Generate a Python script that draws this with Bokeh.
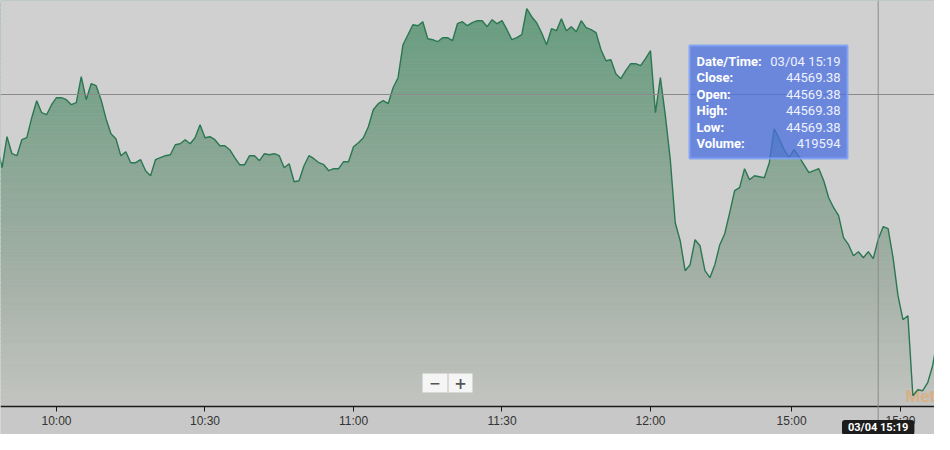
import numpy as np
from bokeh.plotting import figure
from bokeh.models import FixedTicker, Span, BoxAnnotation, Label, Range1d
from bokeh.core.properties import value
from bokeh.embed import file_html
from bokeh.resources import INLINE

# ---------------- data ----------------
minute_index = list(range(193))
close_prices = [
    44763, 44757, 44713, 44775, 44741, 44737, 44769, 44773, 44813, 44847,
    44823, 44819, 44839, 44853, 44853, 44849, 44839, 44843, 44895, 44849,
    44881, 44877, 44849, 44811, 44781, 44771, 44737, 44745, 44723, 44723,
    44729, 44707, 44697, 44729, 44733, 44737, 44739, 44759, 44761, 44769,
    44761, 44773, 44799, 44773, 44775, 44769, 44757, 44757, 44749, 44733,
    44719, 44719, 44737, 44737, 44727, 44741, 44739, 44741, 44737, 44713,
    44721, 44685, 44687, 44717, 44737, 44731, 44723, 44719, 44707, 44711,
    44711, 44725, 44725, 44755, 44763, 44773, 44795, 44829, 44841, 44847,
    44841, 44873, 44893, 44959, 44979, 44999, 44997, 45005, 44971, 44969,
    44965, 44973, 44973, 44967, 45001, 45005, 44997, 45003, 45007, 45007,
    44995, 45009, 45001, 45007, 44989, 44969, 44973, 44979, 45031, 45015,
    45003, 44983, 44959, 44991, 44987, 45011, 44987, 44995, 44985, 45007,
    44993, 44989, 44983, 44949, 44927, 44929, 44901, 44891, 44907, 44921,
    44921, 44917, 44931, 44947, 44823, 44893, 44817, 44729, 44603, 44567,
    44507, 44519, 44569, 44557, 44507, 44493, 44519, 44559, 44581, 44623,
    44667, 44673, 44711, 44689, 44697, 44695, 44693, 44723, 44791, 44771,
    44749, 44733, 44749, 44735, 44719, 44703, 44707, 44711, 44687, 44653,
    44633, 44617, 44573, 44559, 44537, 44545, 44533, 44545, 44531, 44569.38,
    44595, 44591, 44533, 44457, 44409, 44417, 44257, 44269, 44267, 44283,
    44317, 44373, 44397,
]
tick_positions = [13, 43, 73, 103, 133, 161.5, 183.5]
tick_labels = ["10:00", "10:30", "11:00", "11:30", "12:00", "15:00", "15:30"]

tooltip_keys = ["Date/Time:", "Close:", "Open:", "High:", "Low:", "Volume:"]
tooltip_values = ["03/04 15:19", "44569.38", "44569.38", "44569.38", "44569.38", "419594"]
cursor_index = 179
cursor_price = 44859.38
cursor_label = "03/04 15:19"
watermark = "Meti"

# ---------------- layout ----------------
W, H = 934, 434
FRAME_H = 434
AXIS_FY = 406
X0, X1 = 1.687, 190.374
Y0, Y1 = 44179.38, 45047.38


def dx(fx):
    return X0 + fx * (X1 - X0) / W


def dy(fy):
    return Y1 - fy * (Y1 - Y0) / FRAME_H


AXIS_Y = dy(AXIS_FY)

p = figure(width=W, height=H, x_range=Range1d(X0, X1), y_range=Range1d(Y0, Y1),
           output_backend="svg", toolbar_location=None, y_axis_location=None,
           min_border_left=0, min_border_right=0, min_border_top=0, min_border_bottom=0)
p.background_fill_color = "#d0d0d0"
p.border_fill_color = "#c8c8c8"
p.outline_line_color = None
p.xgrid.visible = False
p.ygrid.visible = False

# gradient fill under the curve: horizontal colour bands, then cover above curve
n_bands = 90
edges = np.linspace(AXIS_Y, Y1, n_bands + 1)
centers = (edges[:-1] + edges[1:]) / 2
ref_px = (45063.38 - centers) / 2.0
stop_px = [16, 150, 280, 414]
stop_r = [104, 134, 163, 196]
stop_g = [157, 166, 176, 197]
stop_b = [128, 146, 166, 194]
cols = []
for yp in ref_px:
    r = int(np.interp(yp, stop_px, stop_r))
    g = int(np.interp(yp, stop_px, stop_g))
    b = int(np.interp(yp, stop_px, stop_b))
    cols.append("#%02x%02x%02x" % (r, g, b))
p.quad(left=X0 - 2, right=X1 + 2, bottom=edges[:-1], top=edges[1:],
       fill_color=cols, line_color=cols, line_width=0.6)
p.varea(x=minute_index, y1=close_prices, y2=[Y1 + 100] * len(minute_index),
        fill_color="#d0d0d0")
# band below the axis line (axis label strip)
p.quad(left=X0 - 2, right=X1 + 2, bottom=Y0 - 50, top=AXIS_Y,
       fill_color="#c8c8c8", line_color="#c8c8c8", line_width=0.5)

# watermark
p.text(x=[dx(905)], y=[dy(395)], text=[watermark], text_font=value("Roboto"),
       text_font_style="bold", text_font_size="17px", text_color="#f0a050",
       text_alpha=0.55, text_baseline="middle")

# price line
p.line(minute_index, close_prices, line_color="#2a7752", line_width=1.4)

# crosshair
p.add_layout(Span(location=cursor_index, dimension="height", line_color="#8a8a8a", line_width=1))
p.add_layout(Span(location=cursor_price, dimension="width", line_color="#8a8a8a", line_width=1))

# tooltip
p.add_layout(BoxAnnotation(left=dx(689), right=dx(847), top=dy(45), bottom=dy(158),
                           fill_color="#4a6fe0", fill_alpha=0.75,
                           line_color="#82a3f6", line_width=2, line_alpha=0.9))
for k, (key, val) in enumerate(zip(tooltip_keys, tooltip_values)):
    fy = 61 + 16.4 * k
    p.add_layout(Label(x=dx(696), y=dy(fy), text=key, text_font="Roboto",
                       text_font_style="bold", text_font_size="13px",
                       text_color="white", text_baseline="middle"))
    p.add_layout(Label(x=dx(840), y=dy(fy), text=val, text_font="Roboto",
                       text_font_size="13px", text_color="#eef1ff",
                       text_align="right", text_baseline="middle"))

# zoom buttons
p.add_layout(BoxAnnotation(left=dx(422), right=dx(447), top=dy(373), bottom=dy(392),
                           fill_color="#f5f5f5", fill_alpha=1, line_color="#d6d6d6"))
p.add_layout(BoxAnnotation(left=dx(448), right=dx(472), top=dy(373), bottom=dy(392),
                           fill_color="#f5f5f5", fill_alpha=1, line_color="#d6d6d6"))
p.add_layout(Label(x=dx(434.5), y=dy(382.5), text="\u2212", text_font="DejaVu Sans",
                   text_font_style="bold", text_font_size="14px", text_color="#555555",
                   text_align="center", text_baseline="middle"))
p.add_layout(Label(x=dx(460), y=dy(382.5), text="+", text_font="DejaVu Sans",
                   text_font_style="bold", text_font_size="15px", text_color="#555555",
                   text_align="center", text_baseline="middle"))

# cursor date label on the axis strip
p.add_layout(Label(x=cursor_index, y=dy(427), level="overlay",
                   text=cursor_label, text_font="Roboto",
                   text_font_style="bold", text_font_size="11px", text_color="white",
                   text_align="center", text_baseline="middle",
                   background_fill_color="#1c1c1c", border_radius=3, padding=(6, 1)))

# x axis, placed at a fixed location inside the frame
p.xaxis.fixed_location = AXIS_Y
p.xaxis.ticker = FixedTicker(ticks=tick_positions)
p.xaxis.major_label_overrides = dict(zip(tick_positions, tick_labels))
p.xaxis.axis_line_color = "#1a1a1a"
p.xaxis.axis_line_width = 1.5
p.xaxis.major_tick_line_color = "#1a1a1a"
p.xaxis.major_tick_out = 5
p.xaxis.major_tick_in = 0
p.xaxis.minor_tick_out = 0
p.xaxis.minor_tick_in = 0
p.xaxis.major_label_text_font = "Liberation Sans"
p.xaxis.major_label_text_font_size = "12px"
p.xaxis.major_label_text_color = "#333333"
p.xaxis.major_label_standoff = 2

open("out.html", "w").write(file_html(p, INLINE))
